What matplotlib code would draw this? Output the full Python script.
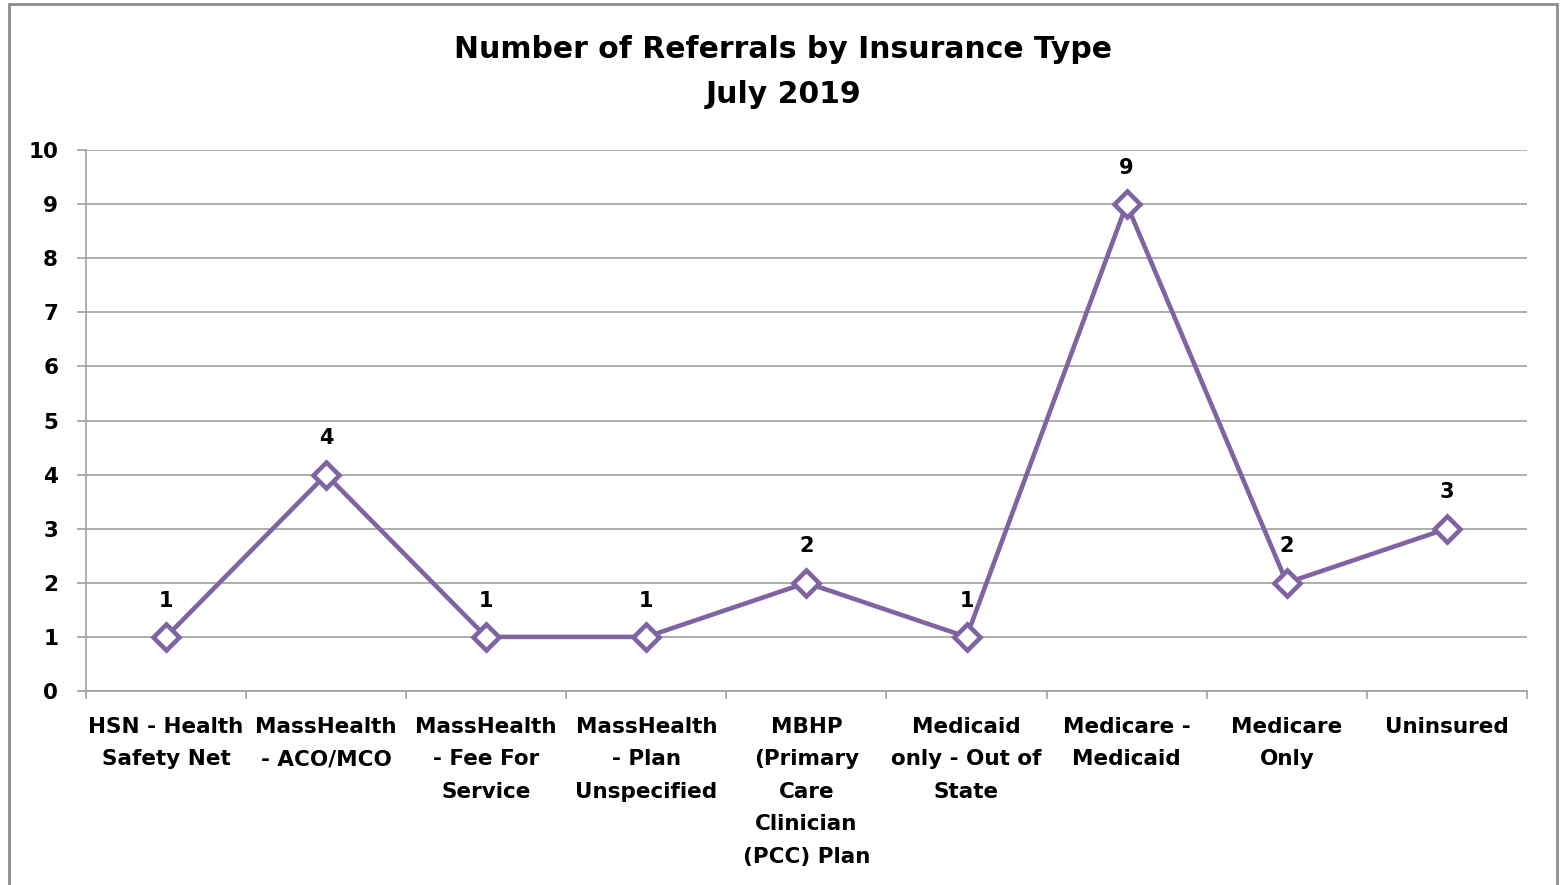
import numpy as np
import matplotlib.pyplot as plt
from matplotlib.patches import Rectangle

# data
categories = ['HSN - Health\nSafety Net', 'MassHealth\n- ACO/MCO', 'MassHealth\n- Fee For\nService',
              'MassHealth\n- Plan\nUnspecified', 'MBHP\n(Primary\nCare\nClinician\n(PCC) Plan',
              'Medicaid\nonly - Out of\nState', 'Medicare -\nMedicaid', 'Medicare\nOnly', 'Uninsured']
referrals = [1, 4, 1, 1, 2, 1, 9, 2, 3]
y_ticks = [0, 1, 2, 3, 4, 5, 6, 7, 8, 9, 10]

purple = '#8064A2'
grid_col = '#a0a0a0'
plt.rcParams['font.family'] = ['DejaVu Sans']

fig = plt.figure(figsize=(15.6, 8.85), dpi=100)
ax = fig.add_axes([0.0551, 0.2192, 0.9237, 0.6113])

x = np.arange(len(categories))
ax.plot(x, referrals, color=purple, lw=3.3, marker='D', ms=13, mfc='white',
        mec=purple, mew=3.3, zorder=3, clip_on=False)
for xi, v in zip(x, referrals):
    ax.annotate(str(v), (xi, v), xytext=(0, 19), textcoords='offset points',
                ha='center', va='bottom', fontsize=15, fontweight='bold')

ax.set_xlim(-0.5, len(categories) - 0.5)
ax.set_ylim(0, 10)
ax.set_yticks(y_ticks)
ax.set_yticklabels([str(t) for t in y_ticks], fontsize=15.5, fontweight='bold')
ax.yaxis.grid(True, color=grid_col, lw=1.2)
ax.set_axisbelow(True)

ax.set_xticks(np.arange(-0.5, len(categories), 1.0))
ax.set_xticklabels([])
ax.set_xticks(x, minor=True)
ax.set_xticklabels(categories, minor=True, fontsize=15.5, fontweight='bold',
                   linespacing=1.78, va='top')
ax.tick_params(axis='x', which='minor', length=0, pad=18.5)
ax.tick_params(axis='x', which='major', length=6, color=grid_col, width=1.2)
ax.tick_params(axis='y', length=6.5, color=grid_col, width=1.2, pad=13.5)

for s in ['top', 'right']:
    ax.spines[s].set_visible(False)
for s in ['left', 'bottom']:
    ax.spines[s].set_color(grid_col)
    ax.spines[s].set_linewidth(1.2)

fig.text(0.502, 0.960, 'Number of Referrals by Insurance Type\nJuly 2019', ha='center', va='top',
         fontsize=21.5, fontweight='bold', linespacing=1.67)

fig.patches.append(Rectangle((0.006, -0.05), 0.992, 1.045, transform=fig.transFigure,
                             fill=False, ec='#8c8c8c', lw=2))

fig.savefig('out.png', dpi=100)
